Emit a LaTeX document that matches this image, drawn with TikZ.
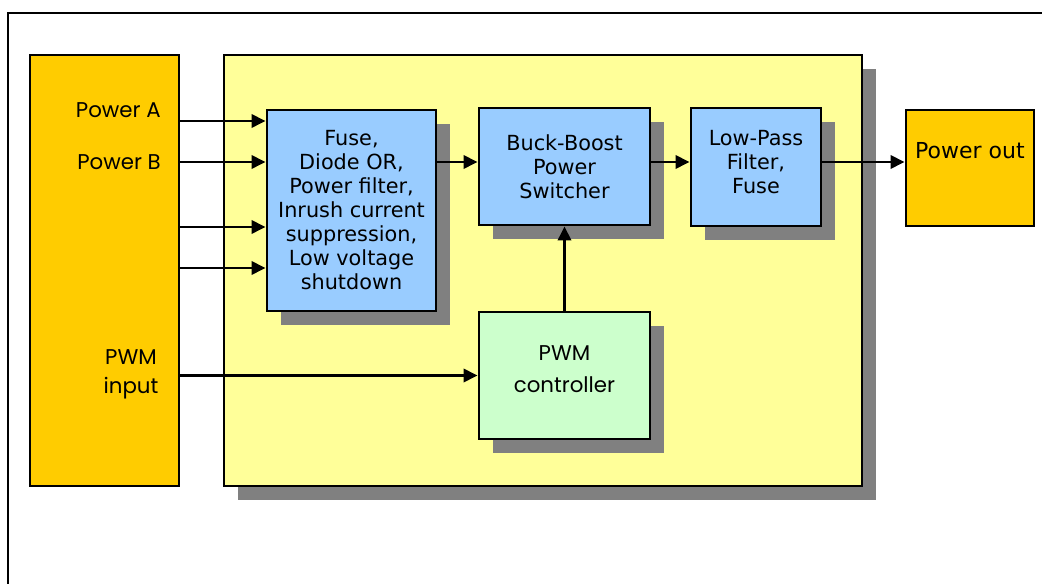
\documentclass[tikz,border=0pt]{standalone}
\usepackage{fontspec}
\setmainfont{DejaVu Sans}
\newfontfamily\gothic{Poppins}
\usetikzlibrary{arrows.meta, positioning, shadows}
\definecolor{pwrorange}{HTML}{FFCC00}
\definecolor{coreyellow}{HTML}{FFFF99}
\definecolor{stageblue}{HTML}{99CCFF}
\definecolor{ctrlgreen}{HTML}{CCFFCC}
\definecolor{shadowgray}{HTML}{808080}

\begin{document}
\begin{tikzpicture}[x=0.75pt, y=-0.75pt,
    block/.style={draw, line width=2.2pt, fill=#1, inner sep=0pt, align=center,
                  font=\fontsize{15.6}{18}\selectfont},
    shade/.style={drop shadow={shadow xshift=10.5pt, shadow yshift=-10.5pt,
                  fill=shadowgray, opacity=1}},
    wire/.style={-{Triangle[length=10.5pt, width=10pt]}, line width=1.8pt},
    lbl/.style={font=\gothic\fontsize{16}{19}\selectfont, inner sep=0pt},
]
    \useasboundingbox (0,0) rectangle (1042,584);
    \draw[line width=1.5pt] (8,600) -- (8,13) -- (1060,13);

    % === blocks ===
    \node[block=pwrorange, minimum width=111.75pt, minimum height=323.25pt] (inA) at (104.5,270.5) {};
    \node[block=coreyellow, shade, minimum width=478.5pt, minimum height=323.25pt] (core) at (543,270.5) {};
    \node[block=stageblue, shade, minimum width=126.75pt, minimum height=150.75pt] (prot) at (351.5,210.5)
        {Fuse,\\Diode OR,\\Power filter,\\Inrush current\\suppression,\\Low voltage\\shutdown};
    \node[block=stageblue, shade, minimum width=128.25pt, minimum height=87.75pt] (buck) at (564.5,166.5)
        {Buck-Boost\\Power\\Switcher};
    \node[block=stageblue, shade, minimum width=97.5pt, minimum height=88.5pt,
          label={[yshift=3.5pt, align=center, font=\fontsize{15.6}{18}\selectfont]center:Low-Pass\\Filter,\\Fuse}]
          (lpf) at (756,167) {};
    \node[block=pwrorange, minimum width=96pt, minimum height=87pt,
          label={[yshift=12.75pt, font=\fontsize{16.5}{18}\selectfont]center:Power out}] (out) at (970,168) {};
    \node[block=ctrlgreen, shade, minimum width=128.25pt, minimum height=95.25pt,
          label={[yshift=5pt, align=center, font=\gothic\fontsize{16}{24}\selectfont]center:PWM\\controller}]
          (pwm) at (564.5,375.5) {};

    % === input labels ===
    \node[lbl, anchor=east] (lblA) at (161,110) {Power A};
    \node[lbl, anchor=east] (lblB) at (161,162) {Power B};
    \node[lbl] (lblP) at (131,357) {PWM};
    \node[lbl] (lblI) at (131,388) {input};

    % === connectors ===
    \coordinate (pA) at (prot.west |- 0,121);
    \coordinate (pB) at (prot.west |- 0,162);
    \coordinate (pC) at (prot.west |- 0,227);
    \coordinate (pD) at (prot.west |- 0,268);
    \coordinate (bus) at (0,162);
    \draw[wire] (inA.east |- pA) -- (pA);
    \draw[wire] (inA.east |- pB) -- (pB);
    \draw[wire] (inA.east |- pC) -- (pC);
    \draw[wire] (inA.east |- pD) -- (pD);
    \draw[wire] (prot.east |- bus) -- (buck.west |- bus);
    \draw[wire] (buck.east |- bus) -- (lpf.west |- bus);
    \draw[wire] (lpf.east |- bus) -- (out.west |- bus);
    \draw[wire] (pwm.north) -- (buck.south);
    \draw[wire] (inA.east |- pwm.west) -- (pwm.west);
\end{tikzpicture}
\end{document}
